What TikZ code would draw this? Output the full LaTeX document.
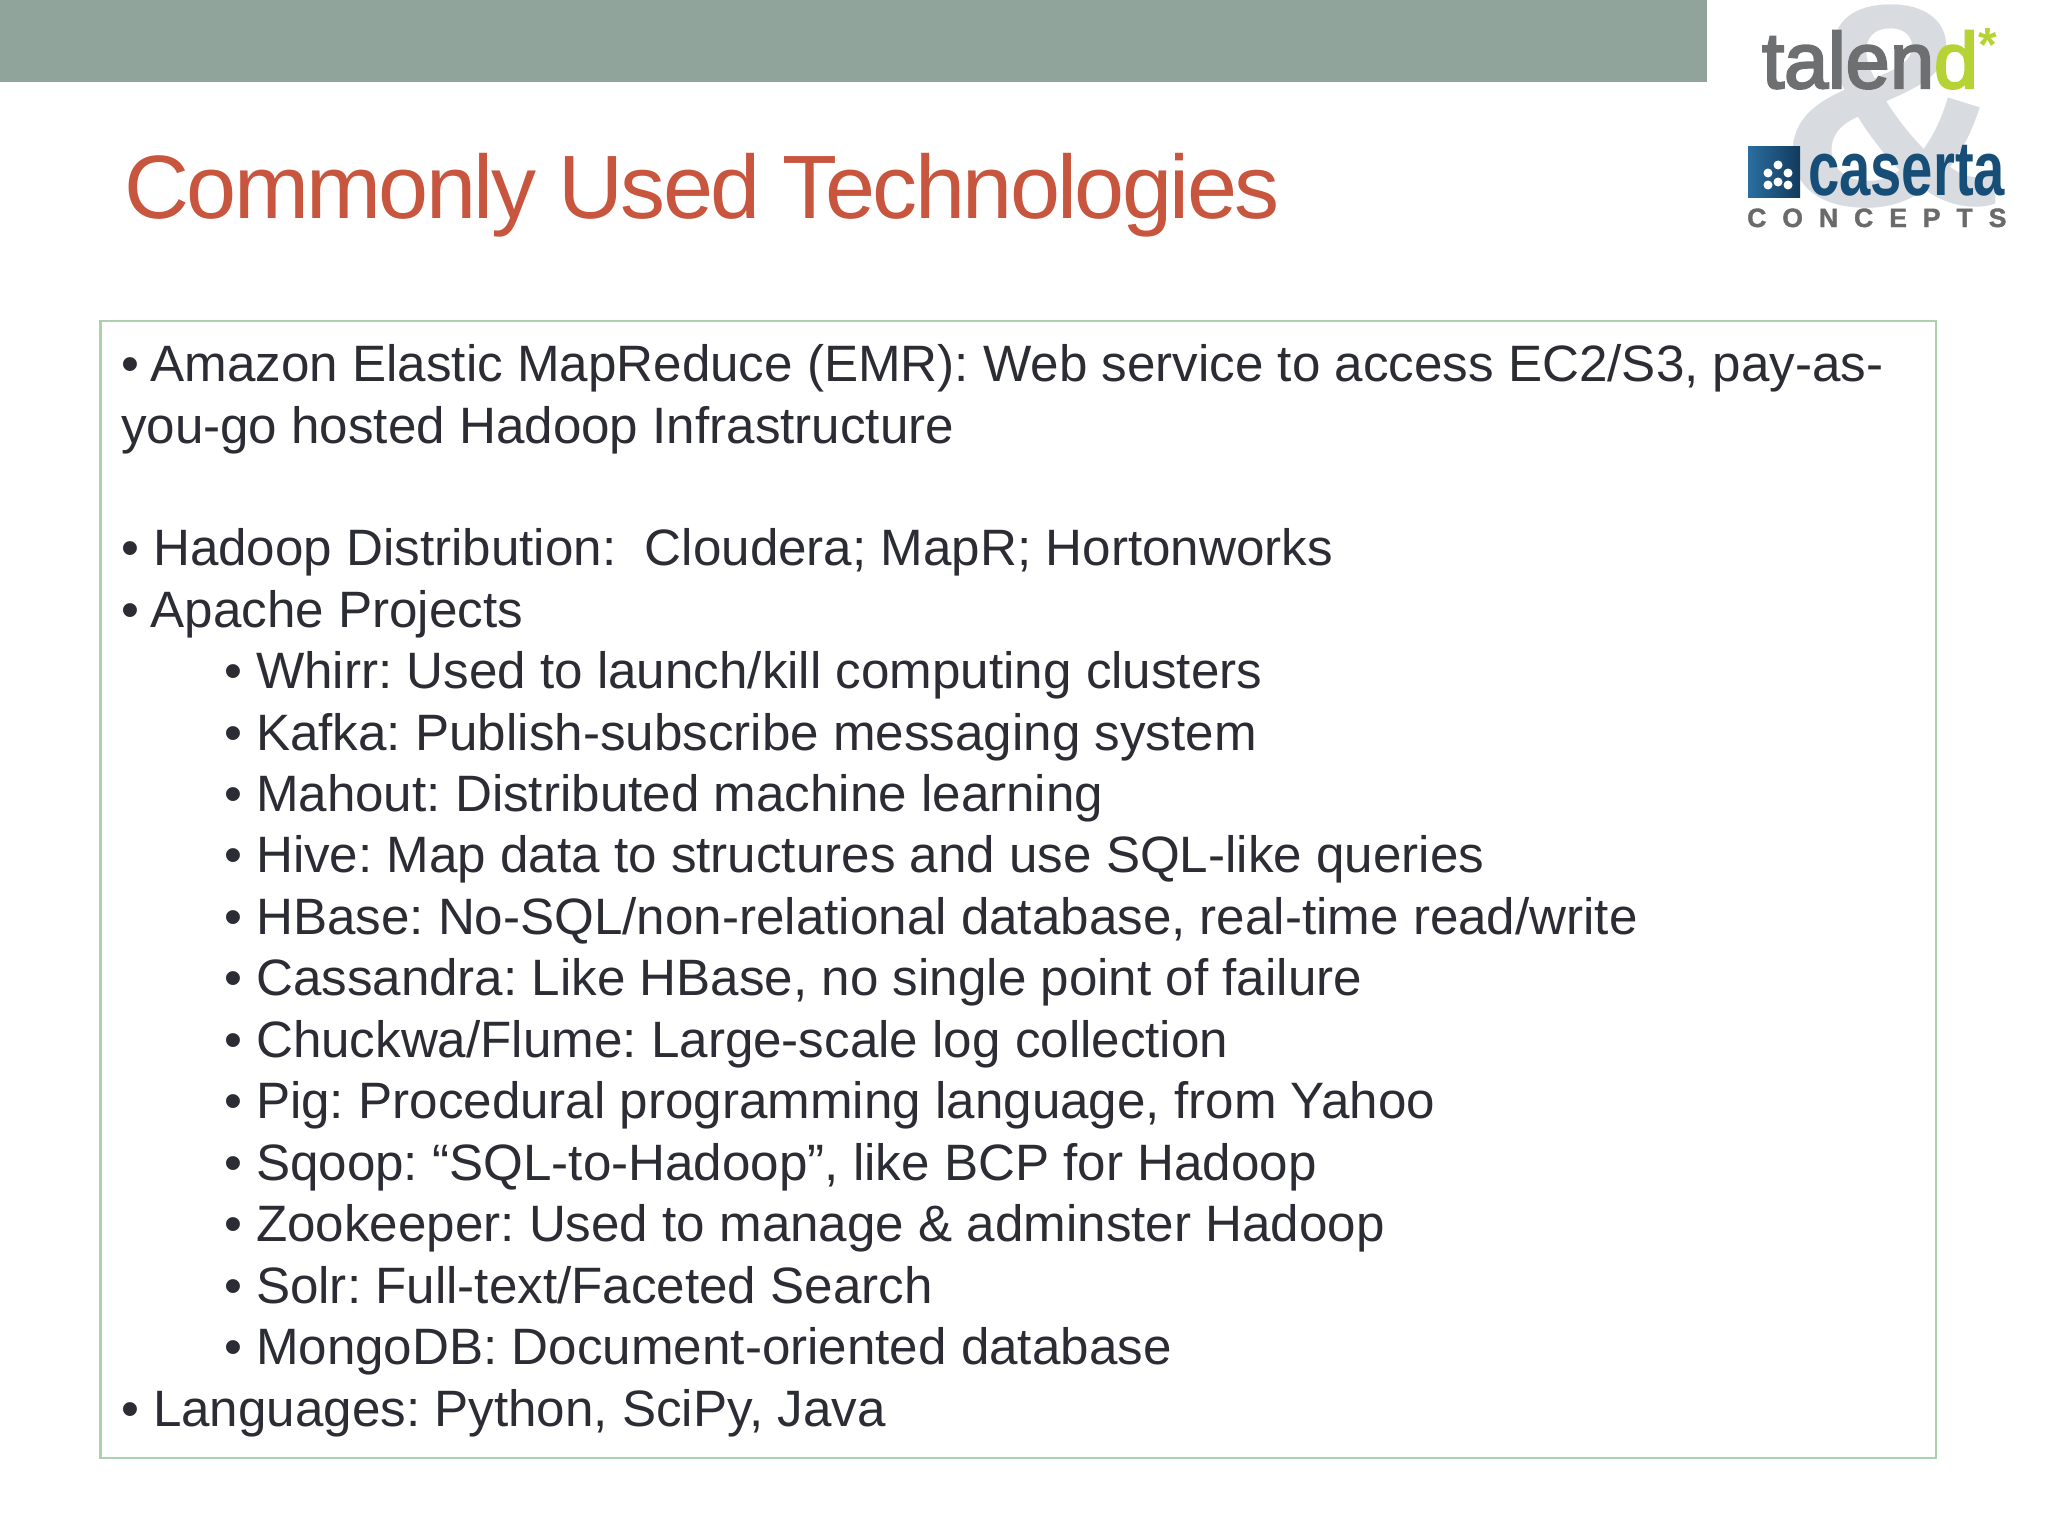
\documentclass[tikz,border=0pt]{standalone}
\usepackage{fontspec}
\setmainfont{Liberation Sans}
\frenchspacing
\definecolor{barcol}{HTML}{90A49B}
\definecolor{titlecol}{HTML}{C8553D}
\definecolor{boxcol}{HTML}{ABD1AE}
\definecolor{bodycol}{HTML}{2C2C35}
\definecolor{ampcol}{HTML}{D8DCE1}
\definecolor{talgray}{HTML}{6E6F71}
\definecolor{talgreen}{HTML}{B5D334}
\definecolor{casblue}{HTML}{174E78}
\definecolor{casdark}{HTML}{123A5C}
\definecolor{caslight}{HTML}{2A6EA0}
\definecolor{congray}{HTML}{6A6A6A}
\tikzset{
  lineA/.style={anchor=base west,inner sep=0pt,outer sep=0pt,text=bodycol,font=\fontsize{51.15}{60}\selectfont},
  lineB/.style={lineA},
  icondot/.style={fill=white,draw=none},
}
\begin{document}
\begin{tikzpicture}[x=1pt,y=-1pt]
\useasboundingbox (0,0) rectangle (2048,1536);
\fill[white] (0,0) rectangle (2048,1536);
\fill[barcol] (0,0) rectangle (1707,82);
% logo
\node[inner sep=0pt,anchor=base,text=ampcol] (amp) at (1893,205) {\scalebox{1.08}[1]{\fontsize{290}{290}\selectfont\bfseries\&}};
\node[inner sep=0pt,anchor=base west,text=talgray] (tal) at (1762,88) {\fontsize{79}{79}\selectfont\addfontfeature{FakeBold=3}tale\hspace{0.5pt}n\textcolor{talgreen}{d}};
\node[inner sep=0pt,anchor=base west,text=talgreen] (star) at (1978,62) {\fontsize{48}{48}\selectfont\textbf{*}};
\shade[left color=caslight,right color=casdark] (1748,147) rectangle (1800,197);
\fill[icondot] (1768,173) circle (4.5);
\fill[icondot] (1778,165) circle (4.5);
\fill[icondot] (1788,173) circle (4.5);
\fill[icondot] (1778,182) circle (4.5);
\fill[icondot] (1768,185) circle (4.5);
\fill[icondot] (1788,185) circle (4.5);
\node[inner sep=0pt,anchor=base west,text=casblue] (cas) at (1808,195) {\scalebox{.73}[1]{\fontsize{77}{77}\selectfont\textbf{caserta}}};
\node[inner sep=0pt,anchor=base west,text=congray] (con) at (1747,227) {\fontsize{26.5}{26.5}\selectfont\addfontfeature{FakeBold=1.5}\textbf{C\hspace{16pt}O\hspace{16pt}N\hspace{16pt}C\hspace{16pt}E\hspace{16pt}P\hspace{16pt}T\hspace{16pt}S}};
% title
\node[anchor=base west,inner sep=0pt,text=titlecol] (title) at (124,218) {\fontsize{90}{100}\selectfont\addfontfeature{LetterSpace=-2.9}Commonly Used Technologies};
% box
\draw[boxcol,line width=2.8pt] (100.5,321) rectangle (1936,1458);
% text
\node[lineA] (l1) at (121,381.5) {•\hspace{-2.6pt} Amazon Elastic MapReduce (EMR): Web service to access EC2/S3, pay-as-};
\node[lineA] (l2) at (121,443) {you-go hosted Hadoop Infrastructure};
\node[lineA] (l3) at (121,565.5) {• Hadoop Distribution:\ \ Cloudera; MapR; Hortonworks};
\node[lineA] (l4) at (121,627) {•\hspace{-2.6pt} Apache Projects};
\node[lineB] (s1) at (224,688.5) {• Whirr: Used to launch/kill computing clusters};
\node[lineB] (s2) at (224,750) {• Kafka: Publish-subscribe messaging system};
\node[lineB] (s3) at (224,811) {• Mahout: Distributed machine learning};
\node[lineB] (s4) at (224,872.5) {• Hive: Map data to structures and use SQL-like queries};
\node[lineB] (s5) at (224,934) {• HBase: No-SQL/non-relational database, real-time read/write};
\node[lineB] (s6) at (224,995.5) {• Cassandra: Like HBase, no single point of failure};
\node[lineB] (s7) at (224,1057) {• Chuckwa/Flume: Large-scale log collection};
\node[lineB] (s8) at (224,1118.5) {• Pig: Procedural programming language, from Yahoo};
\node[lineB] (s9) at (224,1180) {• Sqoop: “SQL-to-Hadoop”, like BCP for Hadoop};
\node[lineB] (s10) at (224,1241.5) {• Zookeeper: Used to manage \& adminster Hadoop};
\node[lineB] (s11) at (224,1303) {• Solr: Full-text/Faceted Search};
\node[lineB] (s12) at (224,1364.5) {• MongoDB: Document-oriented database};
\node[lineA] (l5) at (121,1426) {• Languages: Python, SciPy, Java};
\end{tikzpicture}
\end{document}
